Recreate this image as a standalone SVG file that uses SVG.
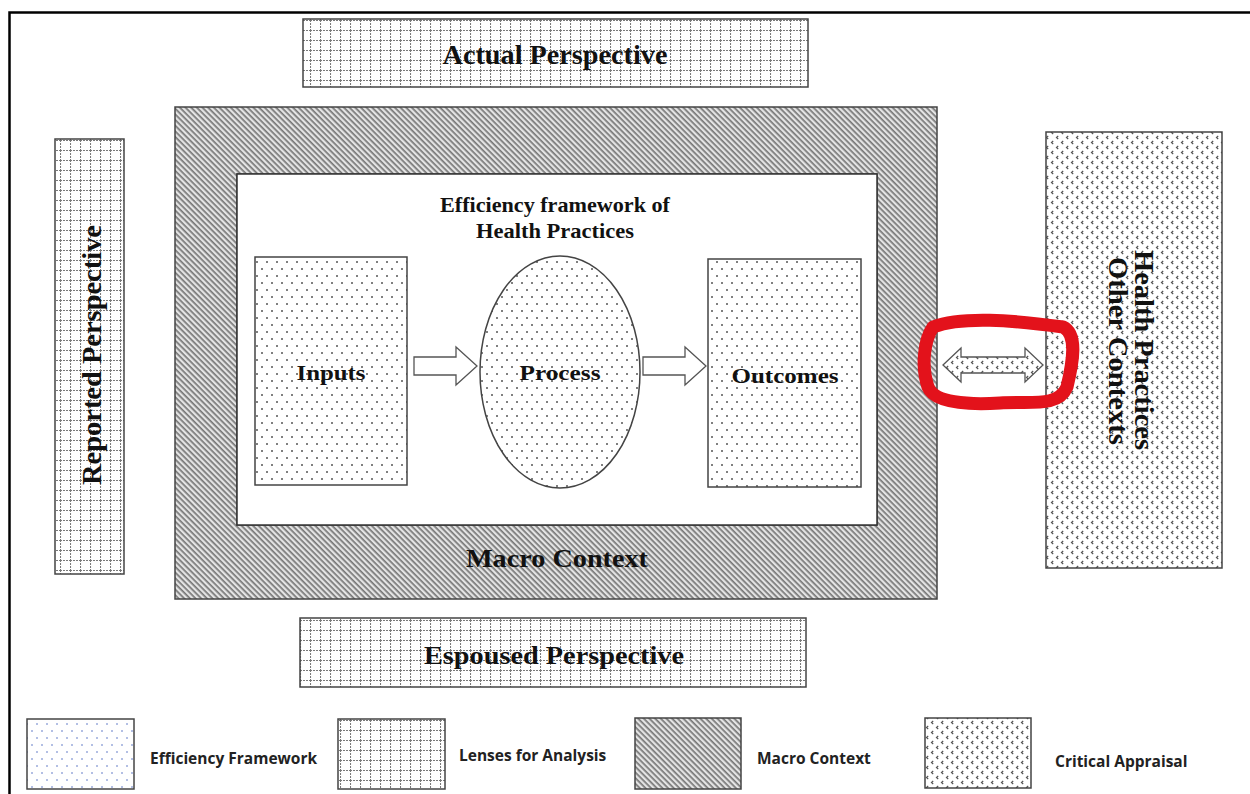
<svg xmlns="http://www.w3.org/2000/svg" width="1250" height="794" viewBox="0 0 1250 794">
  <defs>
    <!-- fine dot grid: efficiency framework -->
    <pattern id="dots" patternUnits="userSpaceOnUse" width="10" height="14">
      <rect width="10" height="14" fill="#fff"/>
      <circle cx="2" cy="3" r="1" fill="#555"/>
      <circle cx="7" cy="10" r="1" fill="#555"/>
    </pattern>
    <pattern id="dotsBlue" patternUnits="userSpaceOnUse" width="10" height="14">
      <rect width="10" height="14" fill="#fff"/>
      <circle cx="2" cy="3" r="1" fill="#9aaadb"/>
      <circle cx="7" cy="10" r="1" fill="#9aaadb"/>
    </pattern>
    <!-- dashed grid: lenses for analysis -->
    <pattern id="grid" patternUnits="userSpaceOnUse" width="10" height="10">
      <rect width="10" height="10" fill="#fff"/>
      <path d="M0 0.5 H10 M0.5 0 V10" stroke="#7a7a7a" stroke-width="1.1" stroke-dasharray="2 1"/>
    </pattern>
    <!-- diagonal hatching: macro context -->
    <pattern id="hatch" patternUnits="userSpaceOnUse" width="4" height="4" patternTransform="rotate(45)">
      <rect width="4" height="4" fill="#e4e4e4"/>
      <rect x="0" y="0" width="4" height="1.7" fill="#777"/>
    </pattern>
    <!-- chevron dots: critical appraisal -->
    <pattern id="chev" patternUnits="userSpaceOnUse" width="10" height="10">
      <rect width="10" height="10" fill="#fff"/>
      <path d="M3.2 1 L1.5 2.5 L3.2 4" stroke="#555" stroke-width="1.2" fill="none"/>
      <path d="M8.2 6 L6.5 7.5 L8.2 9" stroke="#555" stroke-width="1.2" fill="none"/>
    </pattern>
    <style>
      .box { stroke: #444; stroke-width: 1.5; }
      .serif { font-family: "Liberation Serif", "Times New Roman", serif; font-weight: bold; fill: #111; }
      .sans { font-family: "Open Sans", "Liberation Sans", sans-serif; font-weight: bold; fill: #222; font-size: 15.5px; }
      .arrow { stroke: #555; stroke-width: 1.3; }
    </style>
  </defs>

  <rect width="1250" height="794" fill="#fff"/>

  <!-- page frame -->
  <path d="M9.5 794 V12.5 H1250" fill="none" stroke="#000" stroke-width="2.5"/>

  <g id="actual-perspective">
    <rect class="box" x="303" y="19" width="505" height="68" fill="url(#grid)"/>
    <text class="serif" x="555" y="64" font-size="27" text-anchor="middle" textLength="225" lengthAdjust="spacingAndGlyphs">Actual Perspective</text>
  </g>

  <g id="reported-perspective">
    <rect class="box" x="55" y="139" width="69" height="435" fill="url(#grid)"/>
    <text class="serif" font-size="27" text-anchor="middle" textLength="260" lengthAdjust="spacingAndGlyphs" transform="translate(101 355) rotate(-90)">Reported Perspective</text>
  </g>

  <g id="macro-context">
    <path class="box" fill="url(#hatch)" fill-rule="evenodd" d="M175 107 H937 V599 H175 Z M237 174 V525 H877 V174 Z"/>
    <rect x="237" y="174" width="640" height="351" fill="#fff" stroke="#333" stroke-width="1.5"/>
    <text class="serif" x="557" y="567" font-size="26" text-anchor="middle" textLength="182" lengthAdjust="spacingAndGlyphs">Macro Context</text>
  </g>

  <g id="efficiency-framework">
    <text class="serif" x="555" y="212" font-size="21" text-anchor="middle" textLength="230" lengthAdjust="spacingAndGlyphs">Efficiency framework of</text>
    <text class="serif" x="555" y="238" font-size="21" text-anchor="middle" textLength="158" lengthAdjust="spacingAndGlyphs">Health Practices</text>
  </g>

  <g id="inputs">
    <rect class="box" x="255" y="257" width="152" height="228" fill="url(#dots)"/>
    <text class="serif" x="331" y="380" font-size="22" text-anchor="middle" textLength="69" lengthAdjust="spacingAndGlyphs">Inputs</text>
  </g>

  <g id="process">
    <ellipse class="box" cx="560" cy="372" rx="80" ry="116" fill="url(#dots)"/>
    <text class="serif" x="560" y="380" font-size="22" text-anchor="middle" textLength="81" lengthAdjust="spacingAndGlyphs">Process</text>
  </g>

  <g id="outcomes">
    <rect class="box" x="708" y="259" width="153" height="228" fill="url(#dots)"/>
    <text class="serif" x="785" y="383" font-size="22" text-anchor="middle" textLength="107" lengthAdjust="spacingAndGlyphs">Outcomes</text>
  </g>

  <g id="other-contexts">
    <rect class="box" x="1046" y="132" width="176" height="436" fill="url(#chev)"/>
    <text class="serif" font-size="28" text-anchor="middle" textLength="200" lengthAdjust="spacingAndGlyphs" transform="translate(1135 350) rotate(90)">Health Practices</text>
    <text class="serif" font-size="28" text-anchor="middle" textLength="188" lengthAdjust="spacingAndGlyphs" transform="translate(1109 351) rotate(90)">Other Contexts</text>
  </g>

  <g id="espoused-perspective">
    <rect class="box" x="300" y="618" width="506" height="69" fill="url(#grid)"/>
    <text class="serif" x="554" y="664" font-size="26" text-anchor="middle" textLength="260" lengthAdjust="spacingAndGlyphs">Espoused Perspective</text>
  </g>

  <g id="connectors">
    <path class="arrow" fill="#fff" d="M414 357 H456 V347 L477 366 L456 385 V375 H414 Z"/>
    <path class="arrow" fill="#fff" d="M643 357 H685 V347 L706 366 L685 385 V375 H643 Z"/>
    <path class="arrow" fill="url(#chev)" d="M943 365 L961 348 V357 H1025 V348 L1043 365 L1025 382 V373 H961 V382 Z"/>
  </g>

  <!-- hand-drawn highlight around the two-way link -->
  <path d="M933 327 C962 316 1012 320 1063 327 C1078 334 1073 362 1067 387 C1058 408 1030 401 1000 403 C968 405 934 403 928 387 C921 366 924 340 933 327 Z" fill="none" stroke="#e3121b" stroke-width="13" stroke-linejoin="round"/>

  <g id="legend">
    <rect class="box" x="27" y="719" width="107" height="70" fill="url(#dotsBlue)"/>
    <text class="sans" x="150" y="764">Efficiency Framework</text>
    <rect class="box" x="338" y="719" width="107" height="70" fill="url(#grid)"/>
    <text class="sans" x="459" y="761">Lenses for Analysis</text>
    <rect class="box" x="635" y="718" width="106" height="71" fill="url(#hatch)"/>
    <text class="sans" x="757" y="764">Macro Context</text>
    <rect class="box" x="925" y="718" width="106" height="70" fill="url(#chev)"/>
    <text class="sans" x="1055" y="767">Critical Appraisal</text>
  </g>
</svg>
